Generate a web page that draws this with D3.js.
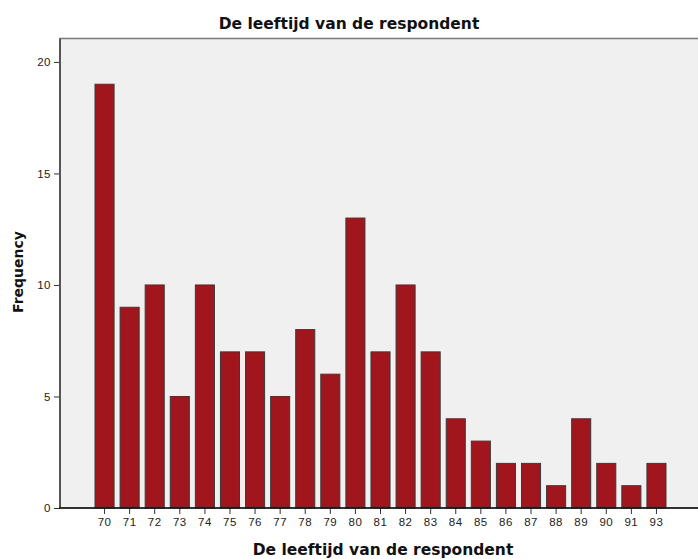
<!DOCTYPE html>
<html>
<head>
<meta charset="utf-8">
<script src="https://cdn.jsdelivr.net/npm/d3@7"></script>
<style>
  body { margin: 0; background: #fff; }
  svg { display: block; font-family: "DejaVu Sans", sans-serif; }
</style>
</head>
<body>
<svg id="chart" width="698" height="559"></svg>
<script>
const ages = ['70', '71', '72', '73', '74', '75', '76', '77', '78', '79', '80', '81',
    '82', '83', '84', '85', '86', '87', '88', '89', '90', '91', '93'];
const counts = [19, 9, 10, 5, 10, 7, 7, 5, 8, 6, 13, 7, 10, 7, 4, 3, 2, 2, 1, 4, 2, 1, 2];
const yTicks = [0, 5, 10, 15, 20];

const title = 'De leeftijd van de respondent';
const xTitle = 'De leeftijd van de respondent';
const yTitle = 'Frequency';

const svg = d3.select('#chart');

// plot frame
const plot = { left: 60, right: 702, top: 38.5, bottom: 508 };

const x = d3.scaleBand()
    .domain(ages)
    .range([92, 669])
    .paddingInner(0.24)
    .paddingOuter(0.12);

const y = d3.scaleLinear()
    .domain([0, 21.05])
    .range([plot.bottom, plot.top]);

svg.append('rect')
    .attr('x', plot.left)
    .attr('y', plot.top)
    .attr('width', plot.right - plot.left)
    .attr('height', plot.bottom - plot.top)
    .attr('fill', '#f0f0f0')
    .attr('stroke', '#7a7a7a')
    .attr('stroke-width', 1.5);

svg.append('g')
    .selectAll('rect')
    .data(counts)
    .join('rect')
    .attr('x', (d, i) => x(ages[i]))
    .attr('y', d => y(d))
    .attr('width', x.bandwidth())
    .attr('height', d => y(0) - y(d))
    .attr('fill', '#a0161c')
    .attr('stroke', '#3a3a3a')
    .attr('stroke-width', 1);

// axes
const yAxis = svg.append('g')
    .attr('transform', `translate(${plot.left},0)`)
    .call(d3.axisLeft(y).tickValues(yTicks).tickSize(6).tickPadding(3).tickFormat(d3.format('d')));
yAxis.select('.domain').remove();
yAxis.selectAll('text').attr('font-size', 11.5).attr('letter-spacing', 0.5).attr('fill', '#222');
yAxis.selectAll('line').attr('stroke', '#333');

const xAxis = svg.append('g')
    .attr('transform', `translate(0,${plot.bottom})`)
    .call(d3.axisBottom(x).tickSize(6).tickPadding(4));
xAxis.select('.domain').remove();
xAxis.selectAll('text').attr('font-size', 11.5).attr('letter-spacing', 0.5).attr('fill', '#222');
xAxis.selectAll('line').attr('stroke', '#333');

svg.append('line')
    .attr('x1', plot.left).attr('x2', plot.left)
    .attr('y1', plot.top).attr('y2', plot.bottom)
    .attr('stroke', '#555').attr('stroke-width', 2);

svg.append('line')
    .attr('x1', plot.left - 1).attr('x2', plot.right)
    .attr('y1', plot.bottom).attr('y2', plot.bottom)
    .attr('stroke', '#111').attr('stroke-width', 1.5);

// titles
svg.append('text')
    .attr('x', 349).attr('y', 29)
    .attr('text-anchor', 'middle')
    .attr('font-size', 15.5).attr('font-weight', 'bold')
    .attr('fill', '#111')
    .text(title);

svg.append('text')
    .attr('x', 383).attr('y', 555)
    .attr('text-anchor', 'middle')
    .attr('font-size', 15.5).attr('font-weight', 'bold')
    .attr('fill', '#111')
    .text(xTitle);

svg.append('text')
    .attr('transform', 'translate(23,272) rotate(-90)')
    .attr('text-anchor', 'middle')
    .attr('font-size', 14).attr('font-weight', 'bold')
    .attr('fill', '#111')
    .text(yTitle);
</script>
</body>
</html>
